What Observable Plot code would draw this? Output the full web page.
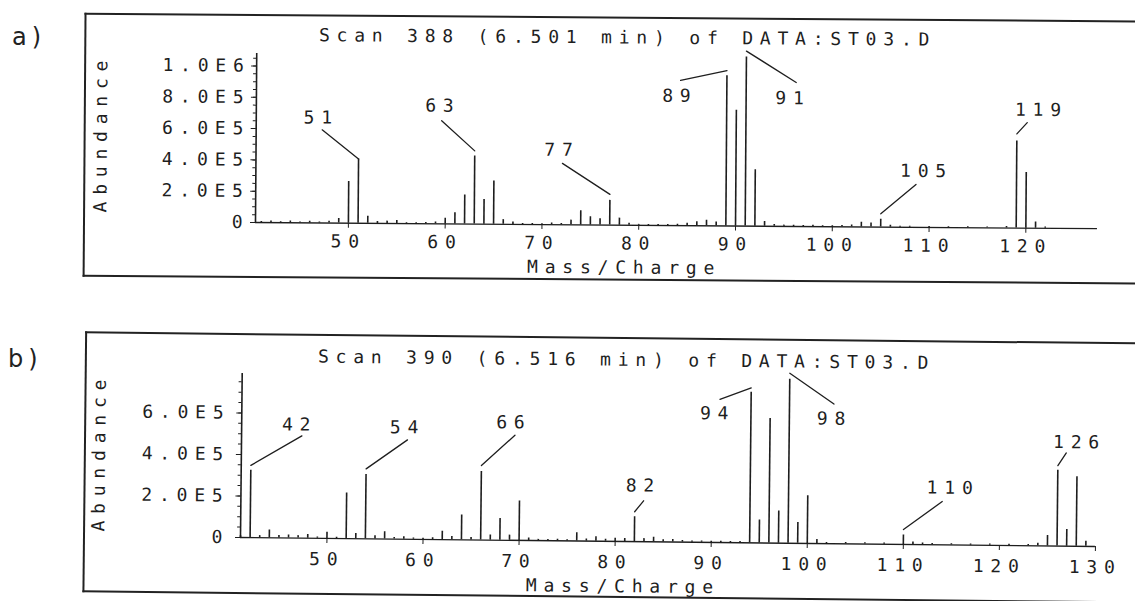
<!DOCTYPE html>
<html><head><meta charset="utf-8">
<script src="https://cdn.jsdelivr.net/npm/d3@7"></script>
<script src="https://cdn.jsdelivr.net/npm/@observablehq/plot@0.6"></script>
<style>
html,body{margin:0;padding:0;background:#fff;}
#page{position:relative;width:1135px;height:601px;overflow:hidden;background:#fff;}
.wrap{position:absolute;left:0;top:0;width:1135px;height:601px;}
.box{position:absolute;border-left:2px solid #222;border-top:2px solid #222;border-bottom:2px solid #222;}
.tag{position:absolute;font-family:"DejaVu Sans";font-size:24px;line-height:24px;color:#222;letter-spacing:5px;}
</style></head><body><div id="page"></div>
<script>
// ---------- data (abundance in units of 1E5) ----------
const titleA = "Scan 388 (6.501 min) of DATA:ST03.D";
const titleB = "Scan 390 (6.516 min) of DATA:ST03.D";
const xLabel = "Mass/Charge";
const yLabel = "Abundance";

const massesA = [41,42,43,44,45,46,47,48,49,50,
  51,52,53,54,55,56,57,58,59,60,
  61,62,63,64,65,66,67,68,69,70,
  71,72,73,74,75,76,77,78,79,80,
  81,82,83,84,85,86,87,88,89,90,
  91,92,93,94,95,96,97,98,99,100,
  101,102,103,104,105,106,107,108,110,112,
  114,116,118,119,120,121,122];
const abundanceA = [0.06,0.10,0.06,0.12,0.06,0.10,0.06,0.12,0.30,2.66,
  4.10,0.45,0.12,0.15,0.20,0.06,0.06,0.08,0.12,0.36,
  0.72,1.85,4.36,1.58,2.76,0.30,0.15,0.06,0.06,0.06,
  0.10,0.08,0.30,0.90,0.53,0.40,1.58,0.45,0.12,0.06,
  0.06,0.06,0.06,0.08,0.15,0.25,0.35,0.25,9.60,7.40,
  10.8,3.60,0.30,0.12,0.08,0.08,0.06,0.08,0.06,0.06,
  0.08,0.12,0.30,0.25,0.50,0.12,0.06,0.06,0.06,0.06,
  0.06,0.06,0.10,5.57,3.55,0.40,0.08];
const labelledA = [51,63,77,89,91,105,119];

const massesB = [41,42,43,44,45,46,47,48,49,50,
  51,52,53,54,55,56,57,58,59,60,
  61,62,63,64,65,66,67,68,69,70,
  71,72,73,74,75,76,77,78,79,80,
  81,82,83,84,85,86,87,88,89,90,
  91,92,93,94,95,96,97,98,99,100,
  101,102,104,106,108,110,111,112,113,115,
  117,119,121,123,124,125,126,127,128,129];
const abundanceB = [0.08,3.24,0.10,0.38,0.12,0.15,0.12,0.18,0.06,0.30,
  0.06,2.20,0.25,3.10,0.15,0.35,0.08,0.12,0.06,0.06,
  0.08,0.40,0.15,1.20,0.12,3.30,0.25,1.05,0.25,1.90,
  0.12,0.06,0.06,0.08,0.06,0.40,0.10,0.22,0.10,0.15,
  0.15,1.20,0.15,0.22,0.10,0.12,0.08,0.06,0.06,0.06,
  0.06,0.06,0.06,7.25,1.10,6.00,1.55,7.90,1.00,2.30,
  0.20,0.06,0.06,0.06,0.06,0.45,0.12,0.08,0.06,0.06,
  0.06,0.06,0.06,0.06,0.12,0.50,3.65,0.80,3.35,0.25];
const labelledB = [42,54,66,82,94,98,110,126];

const yTicksA = [0, 2e5, 4e5, 6e5, 8e5, 1e6];
const yTicksB = [0, 2e5, 4e5, 6e5];
const xTicksA = [50, 60, 70, 80, 90, 100, 110, 120];
const xTicksB = [50, 60, 70, 80, 90, 100, 110, 120, 130];

// ---------- styling / layout ----------
const INK = "#1e1e1e";
const FS = 18, LS = 6.8;
// leader line styling per label (angle deg clockwise from up, length px, gap px, label offset px)
const leadersA = [
  {rot:-51.6, len:46.7, gap:0,   tdx:-41,   tdy:-41},
  {rot:-48,   len:44.8, gap:5,   tdx:-35.6, tdy:-49.7},
  {rot:-57.3, len:56.7, gap:6,   tdx:-51.7, tdy:-50},
  {rot:-102.2,len:47.4, gap:5,   tdx:-50.3, tdy:20.6},
  {rot:121.8, len:58.8, gap:6,   tdx:43.4,  tdy:41},
  {rot:49.7,  len:45.9, gap:5.4, tdx:42,    tdy:-48.4},
  {rot:42.3,  len:15.3, gap:7,   tdx:21,    tdy:-31}
];
const leadersB = [
  {rot:59.4,  len:58.9, gap:5,   tdx:45,    tdy:-46},
  {rot:54.4,  len:50.5, gap:5.6, tdx:37.6,  tdy:-47.3},
  {rot:47.3,  len:45.2, gap:6,   tdx:28.6,  tdy:-49.3},
  {rot:38.7,  len:14.1, gap:5,   tdx:5.1,   tdy:-31},
  {rot:-110.6,len:33.3, gap:4.4, tdx:-36.7, tdy:21.6},
  {rot:124.3, len:53.8, gap:6,   tdx:41.8,  tdy:39.3},
  {rot:53.6,  len:47.8, gap:5.6, tdx:45.8,  tdy:-47.6},
  {rot:33.2,  len:15.2, gap:4.7, tdx:18,    tdy:-28}
];

const LINE = {draw(context, l) { context.moveTo(0, 0); context.lineTo(0, -l); }};
const fmt = d => d === 0 ? "0" : d.toExponential(1).toUpperCase().replace("+", "");

function spectrum(o) {
  const peaks = o.masses.map((m, i) => ({mass: m, abundance: o.values[i] * 1e5}));
  const minor = d3.range(0, o.yMax, 5e4);
  const marks = [
    Plot.ruleY([0], {stroke: INK, strokeWidth: 1.4}),
    Plot.ruleX([o.xDomain[0]], {y1: 0, y2: o.yMax, stroke: INK, strokeWidth: 1.6}),
    Plot.axisY({ticks: minor, tickSize: 3, tickFormat: () => "", label: null, stroke: INK}),
    Plot.axisY({ticks: o.yTicks, tickSize: 5, tickPadding: o.yPad, tickFormat: fmt, label: null, stroke: INK, fill: INK}),
    Plot.axisX({ticks: o.xTicks, tickSize: 5, tickPadding: o.xPad, tickFormat: d => String(d), label: null, stroke: INK, fill: INK}),
    Plot.ruleX(peaks, {x: "mass", y1: 0, y2: "abundance", stroke: INK, strokeWidth: 1.6})
  ];
  o.labelled.forEach((m, i) => {
    const p = peaks.filter(d => d.mass === m);
    const L = o.leaders[i];
    marks.push(Plot.vector(p, {x: "mass", y: "abundance", rotate: L.rot, length: L.len, anchor: "start",
      dy: -L.gap, shape: LINE, stroke: INK, strokeWidth: 1.3}));
    marks.push(Plot.text(p, {x: "mass", y: "abundance", text: d => String(d.mass), dx: L.tdx + LS / 2, dy: L.tdy,
      fill: INK, lineAnchor: "middle", textAnchor: "middle"}));
  });
  marks.push(Plot.text([o.title], {frameAnchor: "top-left", dx: o.titleDx, dy: o.titleDy, fill: INK, lineAnchor: "middle", textAnchor: "middle"}));
  marks.push(Plot.text([xLabel], {frameAnchor: "bottom-left", dx: o.xlDx, dy: o.xlDy, fill: INK, lineAnchor: "middle", textAnchor: "middle"}));
  marks.push(Plot.text([yLabel], {frameAnchor: "left", rotate: -90, dx: o.ylDx, dy: o.ylDy, fill: INK, lineAnchor: "middle", textAnchor: "middle"}));
  return Plot.plot({
    width: 1135, height: o.height,
    marginLeft: o.ml, marginRight: o.mr, marginTop: o.mt, marginBottom: o.mb,
    x: {domain: o.xDomain, type: "linear"},
    y: {domain: [0, o.yMax]},
    style: `position:absolute;left:0;top:${o.top}px;background:transparent;overflow:visible;font-family:'DejaVu Sans Mono',monospace;font-size:${FS}px;letter-spacing:${LS}px;color:${INK};max-width:none;`,
    marks
  });
}

const page = document.getElementById("page");

function addChart(o, box, rot, origin) {
  const wrap = document.createElement("div");
  wrap.className = "wrap";
  wrap.style.transformOrigin = origin;
  wrap.style.transform = `rotate(${rot}deg)`;
  const b = document.createElement("div");
  b.className = "box";
  Object.assign(b.style, box);
  wrap.appendChild(b);
  wrap.appendChild(spectrum(o));
  page.appendChild(wrap);
}

addChart({
  masses: massesA, values: abundanceA, labelled: labelledA, leaders: leadersA,
  xDomain: [40.4, 127.4], yMax: 1.08e6, yTicks: yTicksA, xTicks: xTicksA,
  title: titleA, height: 300, top: 0, ml: 255, mr: 38, mt: 53, mb: 78,
  yPad: 1, xPad: 6.5,
  titleDx: 370.7, titleDy: -18.5, xlDx: 368.9, xlDy: 42.5, ylDx: -155, ylDy: -3.8
}, {left: "83px", top: "14px", width: "1080px", height: "260px"}, 0.42, "255px 222px");

addChart({
  masses: massesB, values: abundanceB, labelled: labelledB, leaders: leadersB,
  xDomain: [41, 130], yMax: 7.9e5, yTicks: yTicksB, xTicks: xTicksB,
  title: titleB, height: 301, top: 300, ml: 240, mr: 40, mt: 73, mb: 64,
  yPad: 6.4, xPad: 9,
  titleDx: 384.2, titleDy: -17.5, xlDx: 382.9, xlDy: 45, ylDx: -142, ylDy: -1.9
}, {left: "83px", top: "333px", width: "1080px", height: "257px"}, 0.6, "240px 537px");

const ta = document.createElement("div");
ta.className = "tag"; ta.textContent = "a)"; ta.style.left = "12px"; ta.style.top = "25px";
page.appendChild(ta);
const tb = document.createElement("div");
tb.className = "tag"; tb.textContent = "b)"; tb.style.left = "8px"; tb.style.top = "347px";
page.appendChild(tb);
</script></body></html>
